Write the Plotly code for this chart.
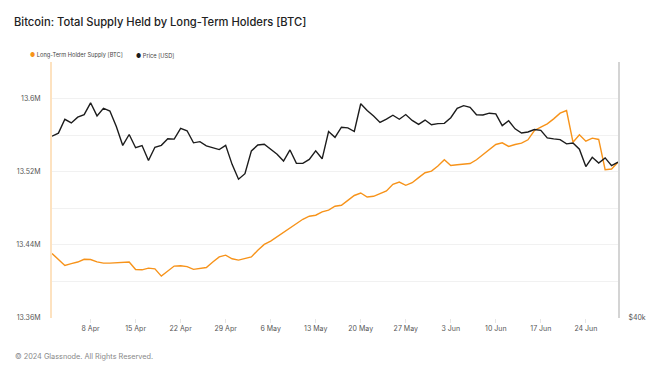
import pandas as pd
import plotly.graph_objects as go

# ---------------- data ----------------
start_date = "2024-04-02"

# Long-Term Holder Supply [BTC], millions of BTC (daily)
lth_supply_m = [
    13.4306, 13.4240, 13.4175, 13.4195, 13.4212, 13.4242, 13.4240,
    13.4214, 13.4200, 13.4200, 13.4203, 13.4210, 13.4212, 13.4130,
    13.4127, 13.4145, 13.4138, 13.4058, 13.4115, 13.4168, 13.4172,
    13.4162, 13.4132, 13.4140, 13.4152, 13.4212, 13.4268, 13.4287,
    13.4248, 13.4233, 13.4247, 13.4268, 13.4342, 13.4405, 13.4440,
    13.4487, 13.4535, 13.4578, 13.4633, 13.4680, 13.4713, 13.4724,
    13.4760, 13.4780, 13.4822, 13.4833, 13.4887, 13.4940, 13.4967,
    13.4923, 13.4931, 13.4960, 13.4989, 13.5062, 13.5087, 13.5051,
    13.5080, 13.5135, 13.5189, 13.5207, 13.5262, 13.5331, 13.5269,
    13.5276, 13.5287, 13.5290, 13.5331, 13.5386, 13.5440, 13.5498,
    13.5516, 13.5476, 13.5498, 13.5512, 13.5549, 13.5651, 13.5687,
    13.5724, 13.5778, 13.5840, 13.5869, 13.5523, 13.5604, 13.5534,
    13.5567, 13.5553, 13.5222, 13.5229, 13.5305,
]

# Price [USD] (daily)
price_usd = [
    65447, 65980, 68508, 67837, 68896, 69362, 71631,
    69139, 70587, 70060, 67195, 63821, 65738, 63426,
    63811, 61276, 63512, 63843, 64994, 64926, 66837,
    66408, 64276, 64482, 63756, 63419, 63114, 63842,
    60636, 58254, 59123, 62889, 63892, 64031, 63162,
    62334, 61188, 63050, 60793, 60793, 61448, 62901,
    61553, 66267, 65231, 67051, 66940, 66278, 71448,
    70136, 69122, 67929, 68526, 69265, 68518, 69394,
    68297, 67578, 68364, 67491, 67706, 67751, 68804,
    70567, 71082, 70757, 69342, 69305, 69648, 69512,
    67332, 68241, 66756, 66012, 66191, 66639, 66490,
    65140, 64960, 64828, 64096, 64253, 63180, 60277,
    61805, 60864, 61706, 60427, 60986,
]

y_tickvals = [13.36, 13.40, 13.44, 13.48, 13.52, 13.56, 13.60, 13.64]
y_ticktext = ["13.36M", "", "13.44M", "", "13.52M", "", "13.6M", ""]
y2_tickvals = [40000]
y2_ticktext = ["$40k"]

dates = pd.date_range(start_date, periods=len(lth_supply_m), freq="D")

ORANGE = "#f7931a"
BLACK = "#1c1c1c"
FONT = "Inter, Roboto, 'Open Sans', sans-serif"

fig = go.Figure()
fig.add_trace(go.Scatter(
    x=dates, y=lth_supply_m, mode="lines", name="Long-Term Holder Supply [BTC]",
    line=dict(color=ORANGE, width=1.4), yaxis="y", showlegend=False,
))
fig.add_trace(go.Scatter(
    x=dates, y=price_usd, mode="lines", name="Price [USD]",
    line=dict(color=BLACK, width=1.4), yaxis="y2", showlegend=False,
))

fig.update_layout(
    width=664, height=373, autosize=False,
    margin=dict(l=52, r=46, t=62, b=55),
    paper_bgcolor="white", plot_bgcolor="white",
    font=dict(family=FONT, size=7, color="#555"),
    title=dict(
        text="Bitcoin: Total Supply Held by Long-Term Holders [BTC]",
        x=14 / 664, xref="container", xanchor="left",
        y=1 - 22 / 373, yref="container", yanchor="middle",
        font=dict(family=FONT, size=11.2, color="#222", weight=500),
    ),
    xaxis=dict(
        type="date",
        range=[dates[0], dates[-1]],
        tick0="2024-04-08", dtick=7 * 24 * 3600 * 1000,
        tickformat="%-d %b",
        showgrid=False, zeroline=False, showline=False,
        ticks="outside", ticklen=4, tickcolor="#e6e6e6",
        tickfont=dict(size=7, color="#555"),
    ),
    yaxis=dict(
        range=[13.36, 13.64],
        tickvals=y_tickvals, ticktext=y_ticktext,
        showgrid=True, gridcolor="#f1f1f1", gridwidth=1,
        zeroline=False,
        showline=True, linecolor="#fde2c0", linewidth=2,
        ticks="", tickfont=dict(size=7, color="#555"),
        ticklabelstandoff=8,
    ),
    yaxis2=dict(
        overlaying="y", side="right", type="log",
        range=[4.60206, 4.90309],
        tickvals=y2_tickvals, ticktext=y2_ticktext,
        showgrid=False, zeroline=False,
        showline=True, linecolor="#d4d4d4", linewidth=2,
        ticks="", tickfont=dict(size=7, color="#555"),
        ticklabelstandoff=7,
    ),
    showlegend=False,
    annotations=[
        dict(
            text=f"<span style='color:{ORANGE}'>●</span> Long-Term Holder Supply [BTC]",
            xref="paper", yref="paper", x=-24 / 566, y=1 + 7 / 256,
            xanchor="left", yanchor="middle", showarrow=False,
            font=dict(family=FONT, size=5.7, color="#444"),
        ),
        dict(
            text=f"<span style='color:{BLACK}'>●</span> Price [USD]",
            xref="paper", yref="paper", x=82 / 566, y=1 + 7 / 256,
            xanchor="left", yanchor="middle", showarrow=False,
            font=dict(family=FONT, size=5.7, color="#444"),
        ),
        dict(
            text="© 2024 Glassnode. All Rights Reserved.",
            xref="paper", yref="paper", x=-39 / 566, y=-38 / 256,
            xanchor="left", yanchor="middle", showarrow=False,
            font=dict(family=FONT, size=7.3, color="#888"),
        ),
    ],
)

fig.write_html(
    "out.html",
    config={"displayModeBar": False},
    post_script="document.body.style.margin='0';document.body.style.overflow='hidden';",
)
